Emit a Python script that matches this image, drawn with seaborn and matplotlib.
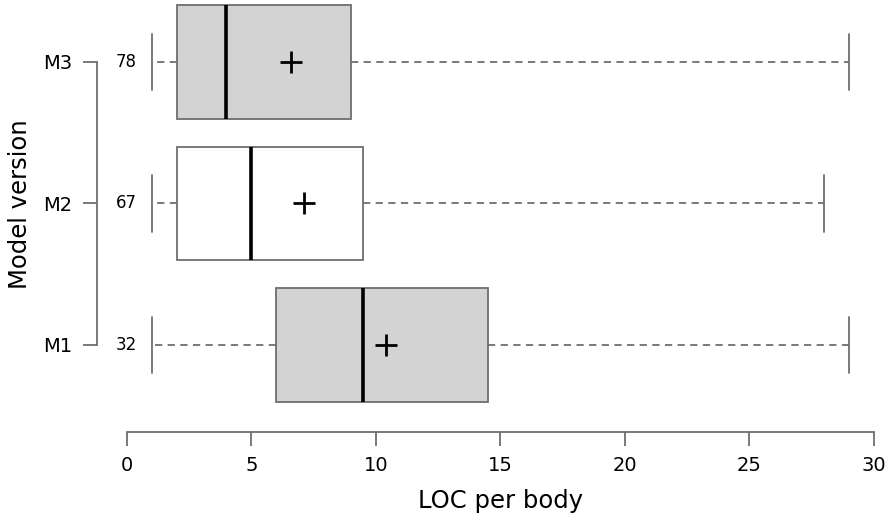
import matplotlib.pyplot as plt
import pandas as pd
import seaborn as sns

# Summary statistics (LOC per body, by model version)
versions = ['M3', 'M2', 'M1']
counts = [78, 67, 32]
lo_whisker = [1, 1, 1]
q1 = [2, 2, 6]
median = [4, 5, 9.5]
q3 = [9, 9.5, 14.5]
hi_whisker = [29, 28, 29]
means = [6.6, 7.1, 10.4]
box_colors = ['#d3d3d3', '#ffffff', '#d3d3d3']

sns.set_theme(style='ticks')
plt.rcParams['font.family'] = ['DejaVu Sans']
plt.rcParams['text.color'] = 'black'
plt.rcParams['axes.labelcolor'] = 'black'

# five-number summary per version -> boxplot reproduces the quartiles exactly
rows = []
for v, a, b, c, d, e in zip(versions, lo_whisker, q1, median, q3, hi_whisker):
    for val in (a, b, c, d, e):
        rows.append({'version': v, 'loc': val})
df = pd.DataFrame(rows)

grey = '#6e6e6e'
fig = plt.figure(figsize=(8.88, 5.21), dpi=100)
ax = fig.add_axes([97 / 888, (521 - 432) / 521, (886 - 97) / 888, 432 / 521])

sns.boxplot(data=df, x='loc', y='version', hue='version', order=versions,
            palette=dict(zip(versions, box_colors)), saturation=1,
            whis=(0, 100), width=0.8, showfliers=False, legend=False,
            linecolor=grey, linewidth=1.3,
            medianprops=dict(color='black', linewidth=2.6),
            whiskerprops=dict(linestyle=(0, (4, 3))),
            ax=ax)

sns.pointplot(x=means, y=versions, order=versions, markers='+',
              linestyles='none', color='black', errorbar=None,
              markersize=16, markeredgewidth=2, ax=ax)

# sample sizes left of the lower whisker
for i, (n, lo) in enumerate(zip(counts, lo_whisker)):
    ax.annotate(str(n), (lo, i), xytext=(-11, 0), textcoords='offset points',
                ha='right', va='center', fontsize=12)

ax.set_xlim(-1.2, 30.5)
ax.set_ylim(2.615, -0.438)
ax.set_xticks([0, 5, 10, 15, 20, 25, 30])
sns.despine(ax=ax)
ax.spines['bottom'].set_bounds(0, 30)
ax.spines['left'].set_bounds(0, 2)
for s in ('bottom', 'left'):
    ax.spines[s].set_color(grey)
    ax.spines[s].set_linewidth(1.3)
ax.tick_params(color=grey, width=1.3, length=10, labelsize=14,
               labelcolor='black')
ax.tick_params(axis='x', pad=7)
ax.tick_params(axis='y', pad=8)

# labels centred on the spine extents, as in the original
ax.set_xlabel('LOC per body', fontsize=17.5)
ax.set_ylabel('Model version', fontsize=17.5)
ax.xaxis.set_label_coords(0.511, -0.132)
ax.yaxis.set_label_coords(-0.082, 0.527)

plt.savefig('out.png', dpi=100)
plt.close()
